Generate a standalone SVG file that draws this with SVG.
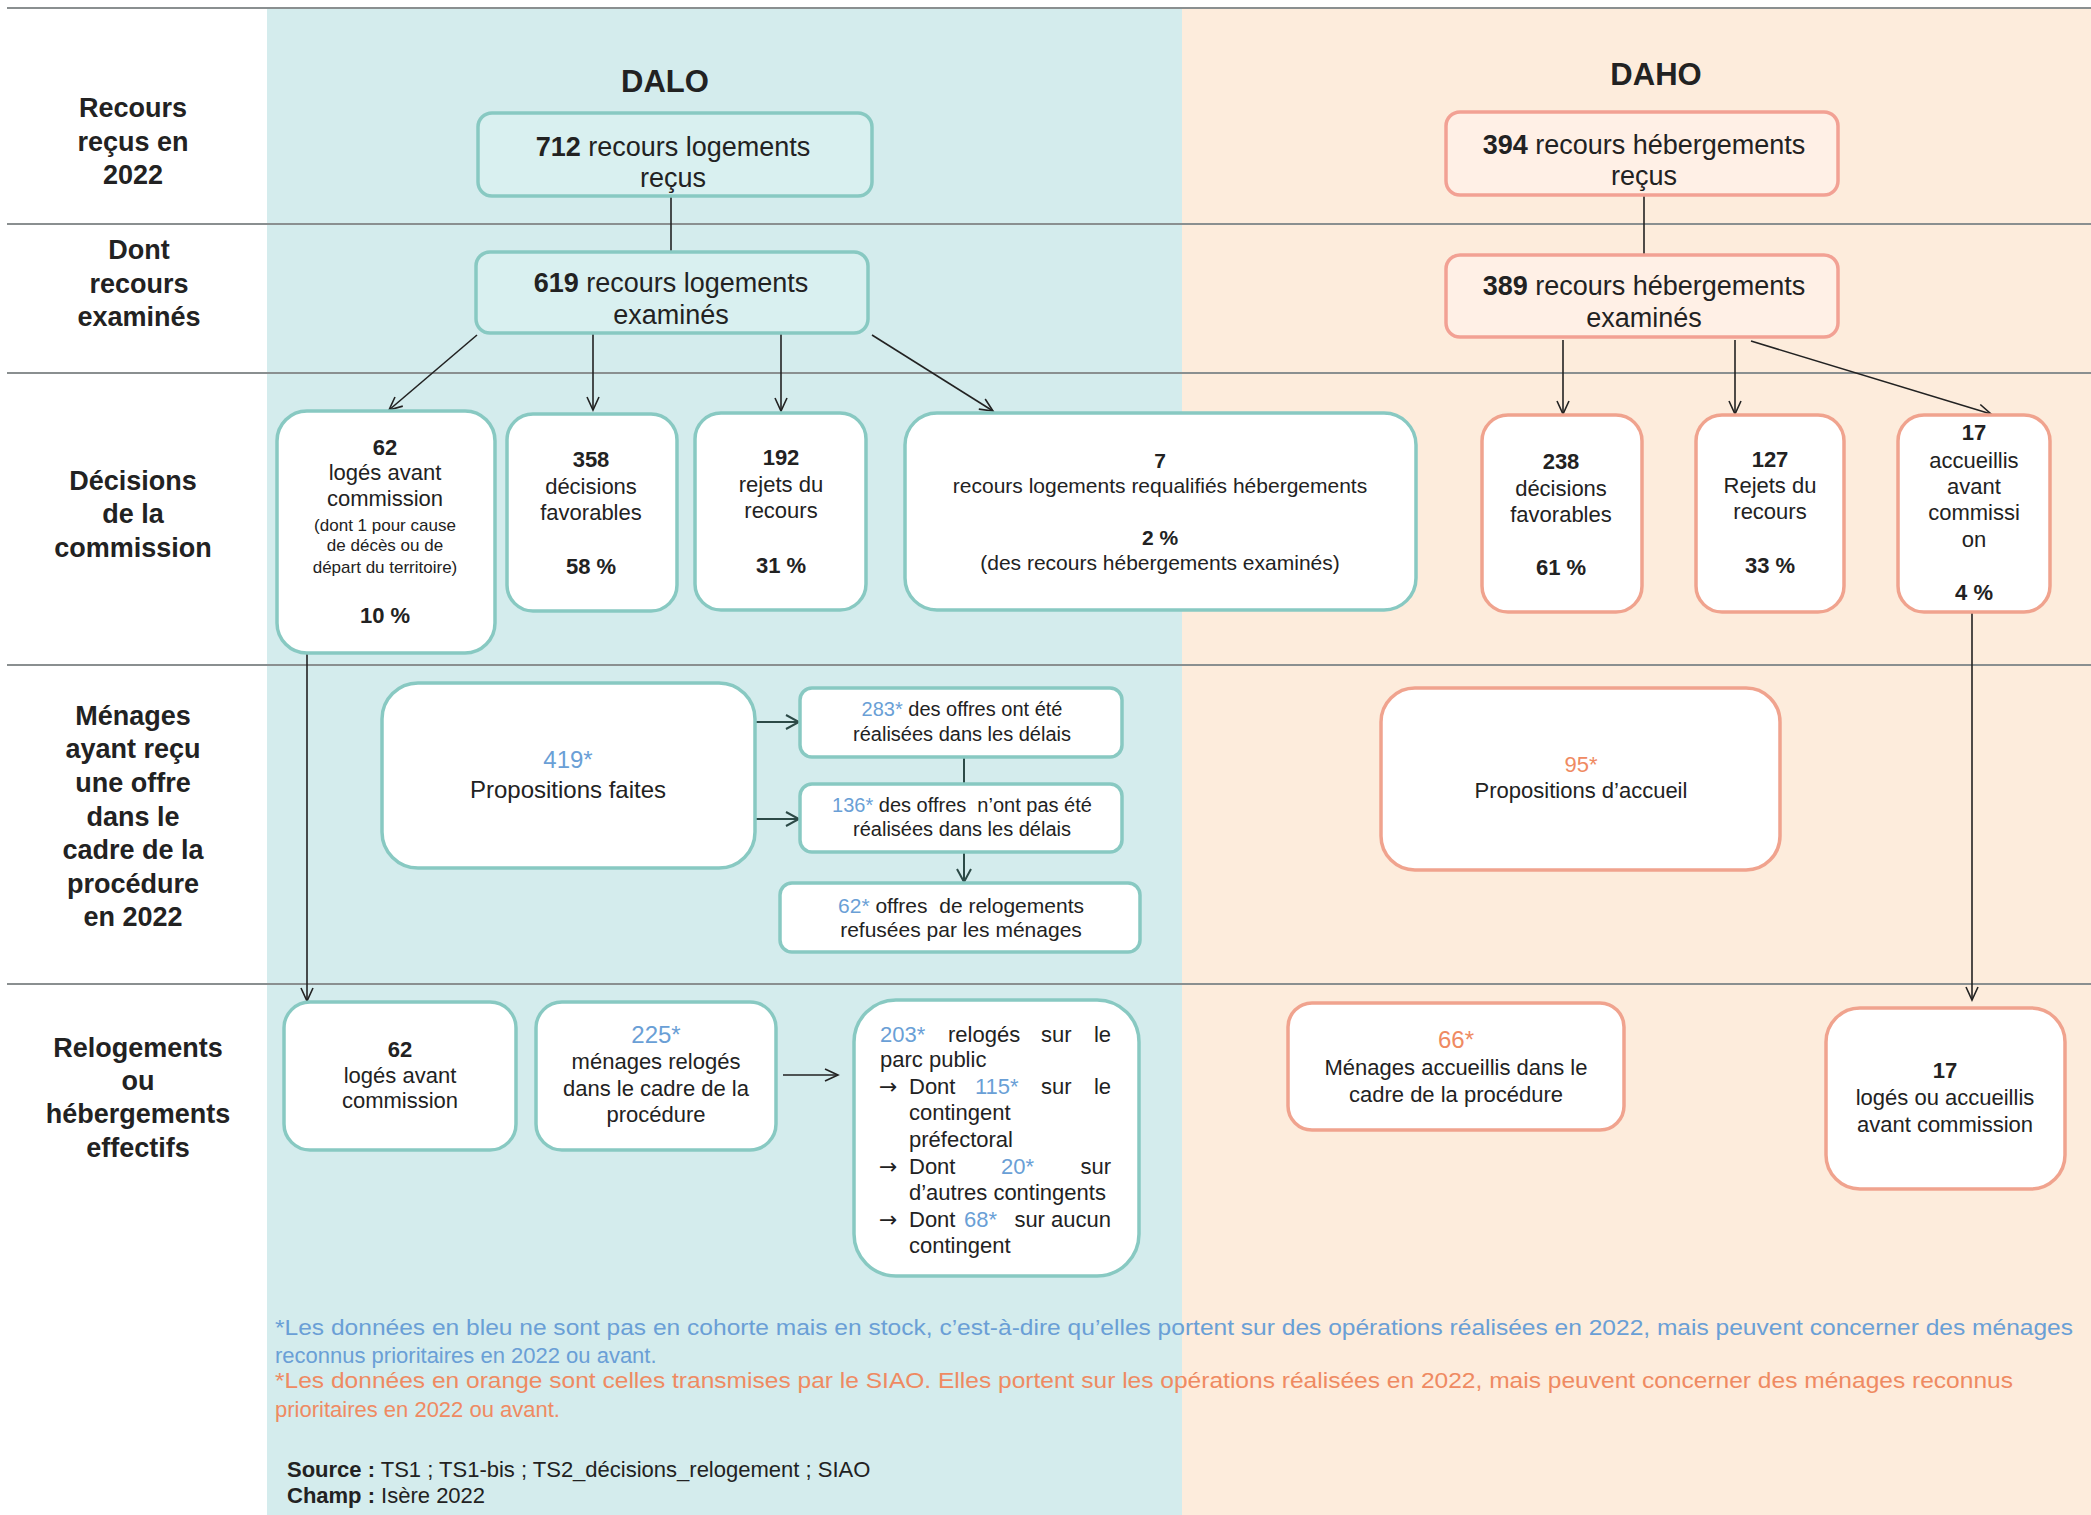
<svg xmlns="http://www.w3.org/2000/svg" width="2091" height="1515" viewBox="0 0 2091 1515">
<defs>
<style>
text{font-family:"Liberation Sans",Arial,sans-serif;fill:#222}
.lab{font-size:27px;font-weight:bold;text-anchor:middle}
.hd{font-size:31px;font-weight:bold;text-anchor:middle}
.t27{font-size:27px;text-anchor:middle}
.t22{font-size:22px;text-anchor:middle}
.t21{font-size:21px;text-anchor:middle}
.t20{font-size:20px;text-anchor:middle}
.t17{font-size:17px;text-anchor:middle}
.t24{font-size:24px;text-anchor:middle}
.b{font-weight:bold}
.bl{fill:#6a9fd6}
.or{fill:#ef8a62}
.j{font-size:22px}
.ar{font-family:"DejaVu Sans",sans-serif;font-size:22px}
.bxt{fill:#ffffff;stroke:#88c9c2;stroke-width:3.5}
.bxtl{fill:#d9f0f0;stroke:#88c9c2;stroke-width:3.5}
.bxo{fill:#ffffff;stroke:#f0a38e;stroke-width:3.5}
.bxol{fill:#fff0e6;stroke:#f2a194;stroke-width:3.5}
.sep{stroke:#8a8f90;stroke-width:2}
.cn{stroke:#222;stroke-width:1.6;fill:none}
.cd{stroke:#2c4a47;stroke-width:2;fill:none}
</style>
<marker id="ah" markerWidth="16" markerHeight="14" refX="14" refY="7" orient="auto" markerUnits="userSpaceOnUse"><path d="M1,1 L14,7 L1,13" fill="none" stroke="#222" stroke-width="1.6"/></marker>
<marker id="ahd" markerWidth="16" markerHeight="16" refX="14" refY="8" orient="auto" markerUnits="userSpaceOnUse"><path d="M1,1 L14,8 L1,15" fill="none" stroke="#2c4a47" stroke-width="2"/></marker>
</defs>
<rect x="0" y="0" width="2091" height="1515" fill="#ffffff"/>
<g id="background">
<rect x="267" y="8" width="915" height="1507" fill="#d4eced"/>
<rect x="1182" y="8" width="909" height="1507" fill="#fdecdc"/>
<line class="sep" x1="7" y1="8" x2="2091" y2="8"/>
<line class="sep" x1="7" y1="224" x2="2091" y2="224"/>
<line class="sep" x1="7" y1="373" x2="2091" y2="373"/>
<line class="sep" x1="7" y1="665" x2="2091" y2="665"/>
<line class="sep" x1="7" y1="984" x2="2091" y2="984"/>
</g>
<g id="row-labels">
<text class="lab"><tspan x="133" y="117">Recours</tspan><tspan x="133" y="151">reçus en</tspan><tspan x="133" y="184">2022</tspan></text>
<text class="lab"><tspan x="139" y="259">Dont</tspan><tspan x="139" y="293">recours</tspan><tspan x="139" y="326">examinés</tspan></text>
<text class="lab"><tspan x="133" y="490">Décisions</tspan><tspan x="133" y="523">de la</tspan><tspan x="133" y="557">commission</tspan></text>
<text class="lab"><tspan x="133" y="725">Ménages</tspan><tspan x="133" y="758">ayant reçu</tspan><tspan x="133" y="792">une offre</tspan><tspan x="133" y="826">dans le</tspan><tspan x="133" y="859">cadre de la</tspan><tspan x="133" y="893">procédure</tspan><tspan x="133" y="926">en 2022</tspan></text>
<text class="lab"><tspan x="138" y="1057">Relogements</tspan><tspan x="138" y="1090">ou</tspan><tspan x="138" y="1123">hébergements</tspan><tspan x="138" y="1157">effectifs</tspan></text>
</g>
<g id="headers">
<text class="hd" x="665" y="92">DALO</text>
<text class="hd" x="1656" y="85">DAHO</text>
</g>
<g id="connectors">
<line class="cn" x1="671" y1="193" x2="671" y2="252"/>
<line class="cn" x1="477" y1="335" x2="389" y2="410" marker-end="url(#ah)"/>
<line class="cn" x1="593" y1="334" x2="593" y2="410" marker-end="url(#ah)"/>
<line class="cn" x1="781" y1="334" x2="781" y2="411" marker-end="url(#ah)"/>
<line class="cn" x1="872" y1="335" x2="993" y2="411" marker-end="url(#ah)"/>
<line class="cn" x1="1644" y1="195" x2="1644" y2="255"/>
<line class="cn" x1="1563" y1="340" x2="1563" y2="414" marker-end="url(#ah)"/>
<line class="cn" x1="1735" y1="340" x2="1735" y2="414" marker-end="url(#ah)"/>
<line class="cn" x1="1751" y1="341" x2="1991" y2="414" marker-end="url(#ah)"/>
<line class="cn" x1="307" y1="653" x2="307" y2="1001" marker-end="url(#ah)"/>
<line class="cn" x1="1972" y1="612" x2="1972" y2="1000" marker-end="url(#ah)"/>
<line class="cd" x1="756" y1="722" x2="799" y2="722" marker-end="url(#ahd)"/>
<line class="cd" x1="756" y1="819" x2="799" y2="819" marker-end="url(#ahd)"/>
<line class="cd" x1="964" y1="757" x2="964" y2="783"/>
<line class="cd" x1="964" y1="852" x2="964" y2="882" marker-end="url(#ahd)"/>
<line class="cn" x1="783" y1="1075" x2="838" y2="1075" marker-end="url(#ah)"/>
</g>
<g id="n712">
<rect class="bxtl" x="478" y="113" width="394" height="83" rx="14"/>
<text class="t27" x="673" y="156"><tspan class="b">712</tspan> recours logements</text>
<text class="t27" x="673" y="187">reçus</text>
</g>
<g id="n619">
<rect class="bxtl" x="476" y="252" width="392" height="81" rx="14"/>
<text class="t27" x="671" y="292"><tspan class="b">619</tspan> recours logements</text>
<text class="t27" x="671" y="324">examinés</text>
</g>
<g id="n394">
<rect class="bxol" x="1446" y="112" width="392" height="83" rx="14"/>
<text class="t27" x="1644" y="154"><tspan class="b">394</tspan> recours hébergements</text>
<text class="t27" x="1644" y="185">reçus</text>
</g>
<g id="n389">
<rect class="bxol" x="1446" y="255" width="392" height="82" rx="14"/>
<text class="t27" x="1644" y="295"><tspan class="b">389</tspan> recours hébergements</text>
<text class="t27" x="1644" y="327">examinés</text>
</g>
<g id="n62-decision">
<rect class="bxt" x="277" y="411" width="218" height="242" rx="30"/>
<text class="t22 b" x="385" y="455">62</text>
<text class="t22" x="385" y="480">logés avant</text>
<text class="t22" x="385" y="506">commission</text>
<text class="t17" x="385" y="531">(dont 1 pour cause</text>
<text class="t17" x="385" y="551">de décès ou de</text>
<text class="t17" x="385" y="573">départ du territoire)</text>
<text class="t22 b" x="385" y="623">10 %</text>
</g>
<g id="n358">
<rect class="bxt" x="507" y="414" width="170" height="197" rx="26"/>
<text class="t22 b" x="591" y="467">358</text>
<text class="t22" x="591" y="494">décisions</text>
<text class="t22" x="591" y="520">favorables</text>
<text class="t22 b" x="591" y="574">58 %</text>
</g>
<g id="n192">
<rect class="bxt" x="695" y="413" width="171" height="197" rx="26"/>
<text class="t22 b" x="781" y="465">192</text>
<text class="t22" x="781" y="492">rejets du</text>
<text class="t22" x="781" y="518">recours</text>
<text class="t22 b" x="781" y="573">31 %</text>
</g>
<g id="n7">
<rect class="bxt" x="905" y="413" width="511" height="197" rx="32"/>
<text class="t21 b" x="1160" y="468">7</text>
<text class="t21" x="1160" y="493">recours logements requalifiés hébergements</text>
<text class="t21 b" x="1160" y="545">2 %</text>
<text class="t21" x="1160" y="570">(des recours hébergements examinés)</text>
</g>
<g id="n238">
<rect class="bxo" x="1482" y="415" width="160" height="197" rx="26"/>
<text class="t22 b" x="1561" y="469">238</text>
<text class="t22" x="1561" y="496">décisions</text>
<text class="t22" x="1561" y="522">favorables</text>
<text class="t22 b" x="1561" y="575">61 %</text>
</g>
<g id="n127">
<rect class="bxo" x="1696" y="415" width="148" height="197" rx="26"/>
<text class="t22 b" x="1770" y="467">127</text>
<text class="t22" x="1770" y="493">Rejets du</text>
<text class="t22" x="1770" y="519">recours</text>
<text class="t22 b" x="1770" y="573">33 %</text>
</g>
<g id="n17-decision">
<rect class="bxo" x="1898" y="415" width="152" height="197" rx="26"/>
<text class="t22 b" x="1974" y="440">17</text>
<text class="t22" x="1974" y="468">accueillis</text>
<text class="t22" x="1974" y="494">avant</text>
<text class="t22" x="1974" y="520">commissi</text>
<text class="t22" x="1974" y="547">on</text>
<text class="t22 b" x="1974" y="600">4 %</text>
</g>
<g id="n419">
<rect class="bxt" x="382" y="683" width="373" height="185" rx="36"/>
<text class="t24 bl" x="568" y="768">419*</text>
<text class="t24" x="568" y="798">Propositions faites</text>
</g>
<g id="n283">
<rect class="bxt" x="800" y="688" width="322" height="69" rx="12"/>
<text class="t20" x="962" y="716"><tspan class="bl">283*</tspan> des offres ont été</text>
<text class="t20" x="962" y="741">réalisées dans les délais</text>
</g>
<g id="n136">
<rect class="bxt" x="800" y="784" width="322" height="68" rx="12"/>
<text class="t20" x="962" y="812"><tspan class="bl">136*</tspan> des offres&#160; n’ont pas été</text>
<text class="t20" x="962" y="836">réalisées dans les délais</text>
</g>
<g id="n62-refus">
<rect class="bxt" x="780" y="883" width="360" height="69" rx="12"/>
<text class="t21" x="961" y="913"><tspan class="bl">62*</tspan> offres&#160; de relogements</text>
<text class="t21" x="961" y="937">refusées par les ménages</text>
</g>
<g id="n95">
<rect class="bxo" x="1381" y="688" width="399" height="182" rx="34"/>
<text class="t22 or" x="1581" y="772">95*</text>
<text class="t22" x="1581" y="798">Propositions d’accueil</text>
</g>
<g id="n62-reloge">
<rect class="bxt" x="284" y="1002" width="232" height="148" rx="26"/>
<text class="t22 b" x="400" y="1057">62</text>
<text class="t22" x="400" y="1083">logés avant</text>
<text class="t22" x="400" y="1108">commission</text>
</g>
<g id="n225">
<rect class="bxt" x="536" y="1002" width="240" height="148" rx="26"/>
<text class="t24 bl" x="656" y="1043">225*</text>
<text class="t22" x="656" y="1069">ménages relogés</text>
<text class="t22" x="656" y="1096">dans le cadre de la</text>
<text class="t22" x="656" y="1122">procédure</text>
</g>
<g id="n203">
<rect class="bxt" x="854" y="1000" width="285" height="276" rx="42"/>
<text class="j bl" x="880" y="1042">203*</text>
<text class="j" x="948" y="1042">relogés</text>
<text class="j" x="1041" y="1042">sur</text>
<text class="j" x="1111" y="1042" text-anchor="end">le</text>
<text class="j" x="880" y="1067">parc public</text>
<text class="ar" x="879" y="1094">→</text>
<text class="j" x="909" y="1094">Dont</text>
<text class="j bl" x="975" y="1094">115*</text>
<text class="j" x="1041" y="1094">sur</text>
<text class="j" x="1111" y="1094" text-anchor="end">le</text>
<text class="j" x="909" y="1120">contingent</text>
<text class="j" x="909" y="1147">préfectoral</text>
<text class="ar" x="879" y="1174">→</text>
<text class="j" x="909" y="1174">Dont</text>
<text class="j bl" x="1001" y="1174">20*</text>
<text class="j" x="1111" y="1174" text-anchor="end">sur</text>
<text class="j" x="909" y="1200">d’autres contingents</text>
<text class="ar" x="879" y="1227">→</text>
<text class="j" x="909" y="1227">Dont</text>
<text class="j bl" x="964" y="1227">68*</text>
<text class="j" x="1111" y="1227" text-anchor="end">sur aucun</text>
<text class="j" x="909" y="1253">contingent</text>
</g>
<g id="n66">
<rect class="bxo" x="1288" y="1003" width="336" height="127" rx="24"/>
<text class="t24 or" x="1456" y="1048">66*</text>
<text class="t22" x="1456" y="1075">Ménages accueillis dans le</text>
<text class="t22" x="1456" y="1102">cadre de la procédure</text>
</g>
<g id="n17-reloge">
<rect class="bxo" x="1826" y="1008" width="239" height="181" rx="34"/>
<text class="t22 b" x="1945" y="1078">17</text>
<text class="t22" x="1945" y="1105">logés ou accueillis</text>
<text class="t22" x="1945" y="1132">avant commission</text>
</g>
<g id="notes">
<text class="bl" font-size="22" x="275" y="1335" textLength="1798" lengthAdjust="spacingAndGlyphs">*Les données en bleu ne sont pas en cohorte mais en stock, c’est-à-dire qu’elles portent sur des opérations réalisées en 2022, mais peuvent concerner des ménages</text>
<text class="bl" font-size="22" x="275" y="1363">reconnus prioritaires en 2022 ou avant.</text>
<text class="or" font-size="22" x="275" y="1388" textLength="1738" lengthAdjust="spacingAndGlyphs">*Les données en orange sont celles transmises par le SIAO. Elles portent sur les opérations réalisées en 2022, mais peuvent concerner des ménages reconnus</text>
<text class="or" font-size="22" x="275" y="1417">prioritaires en 2022 ou avant.</text>
<text font-size="22" x="287" y="1477"><tspan class="b">Source :</tspan> TS1 ; TS1-bis ; TS2_décisions_relogement ; SIAO</text>
<text font-size="22" x="287" y="1503"><tspan class="b">Champ :</tspan> Isère 2022</text>
</g>
</svg>
